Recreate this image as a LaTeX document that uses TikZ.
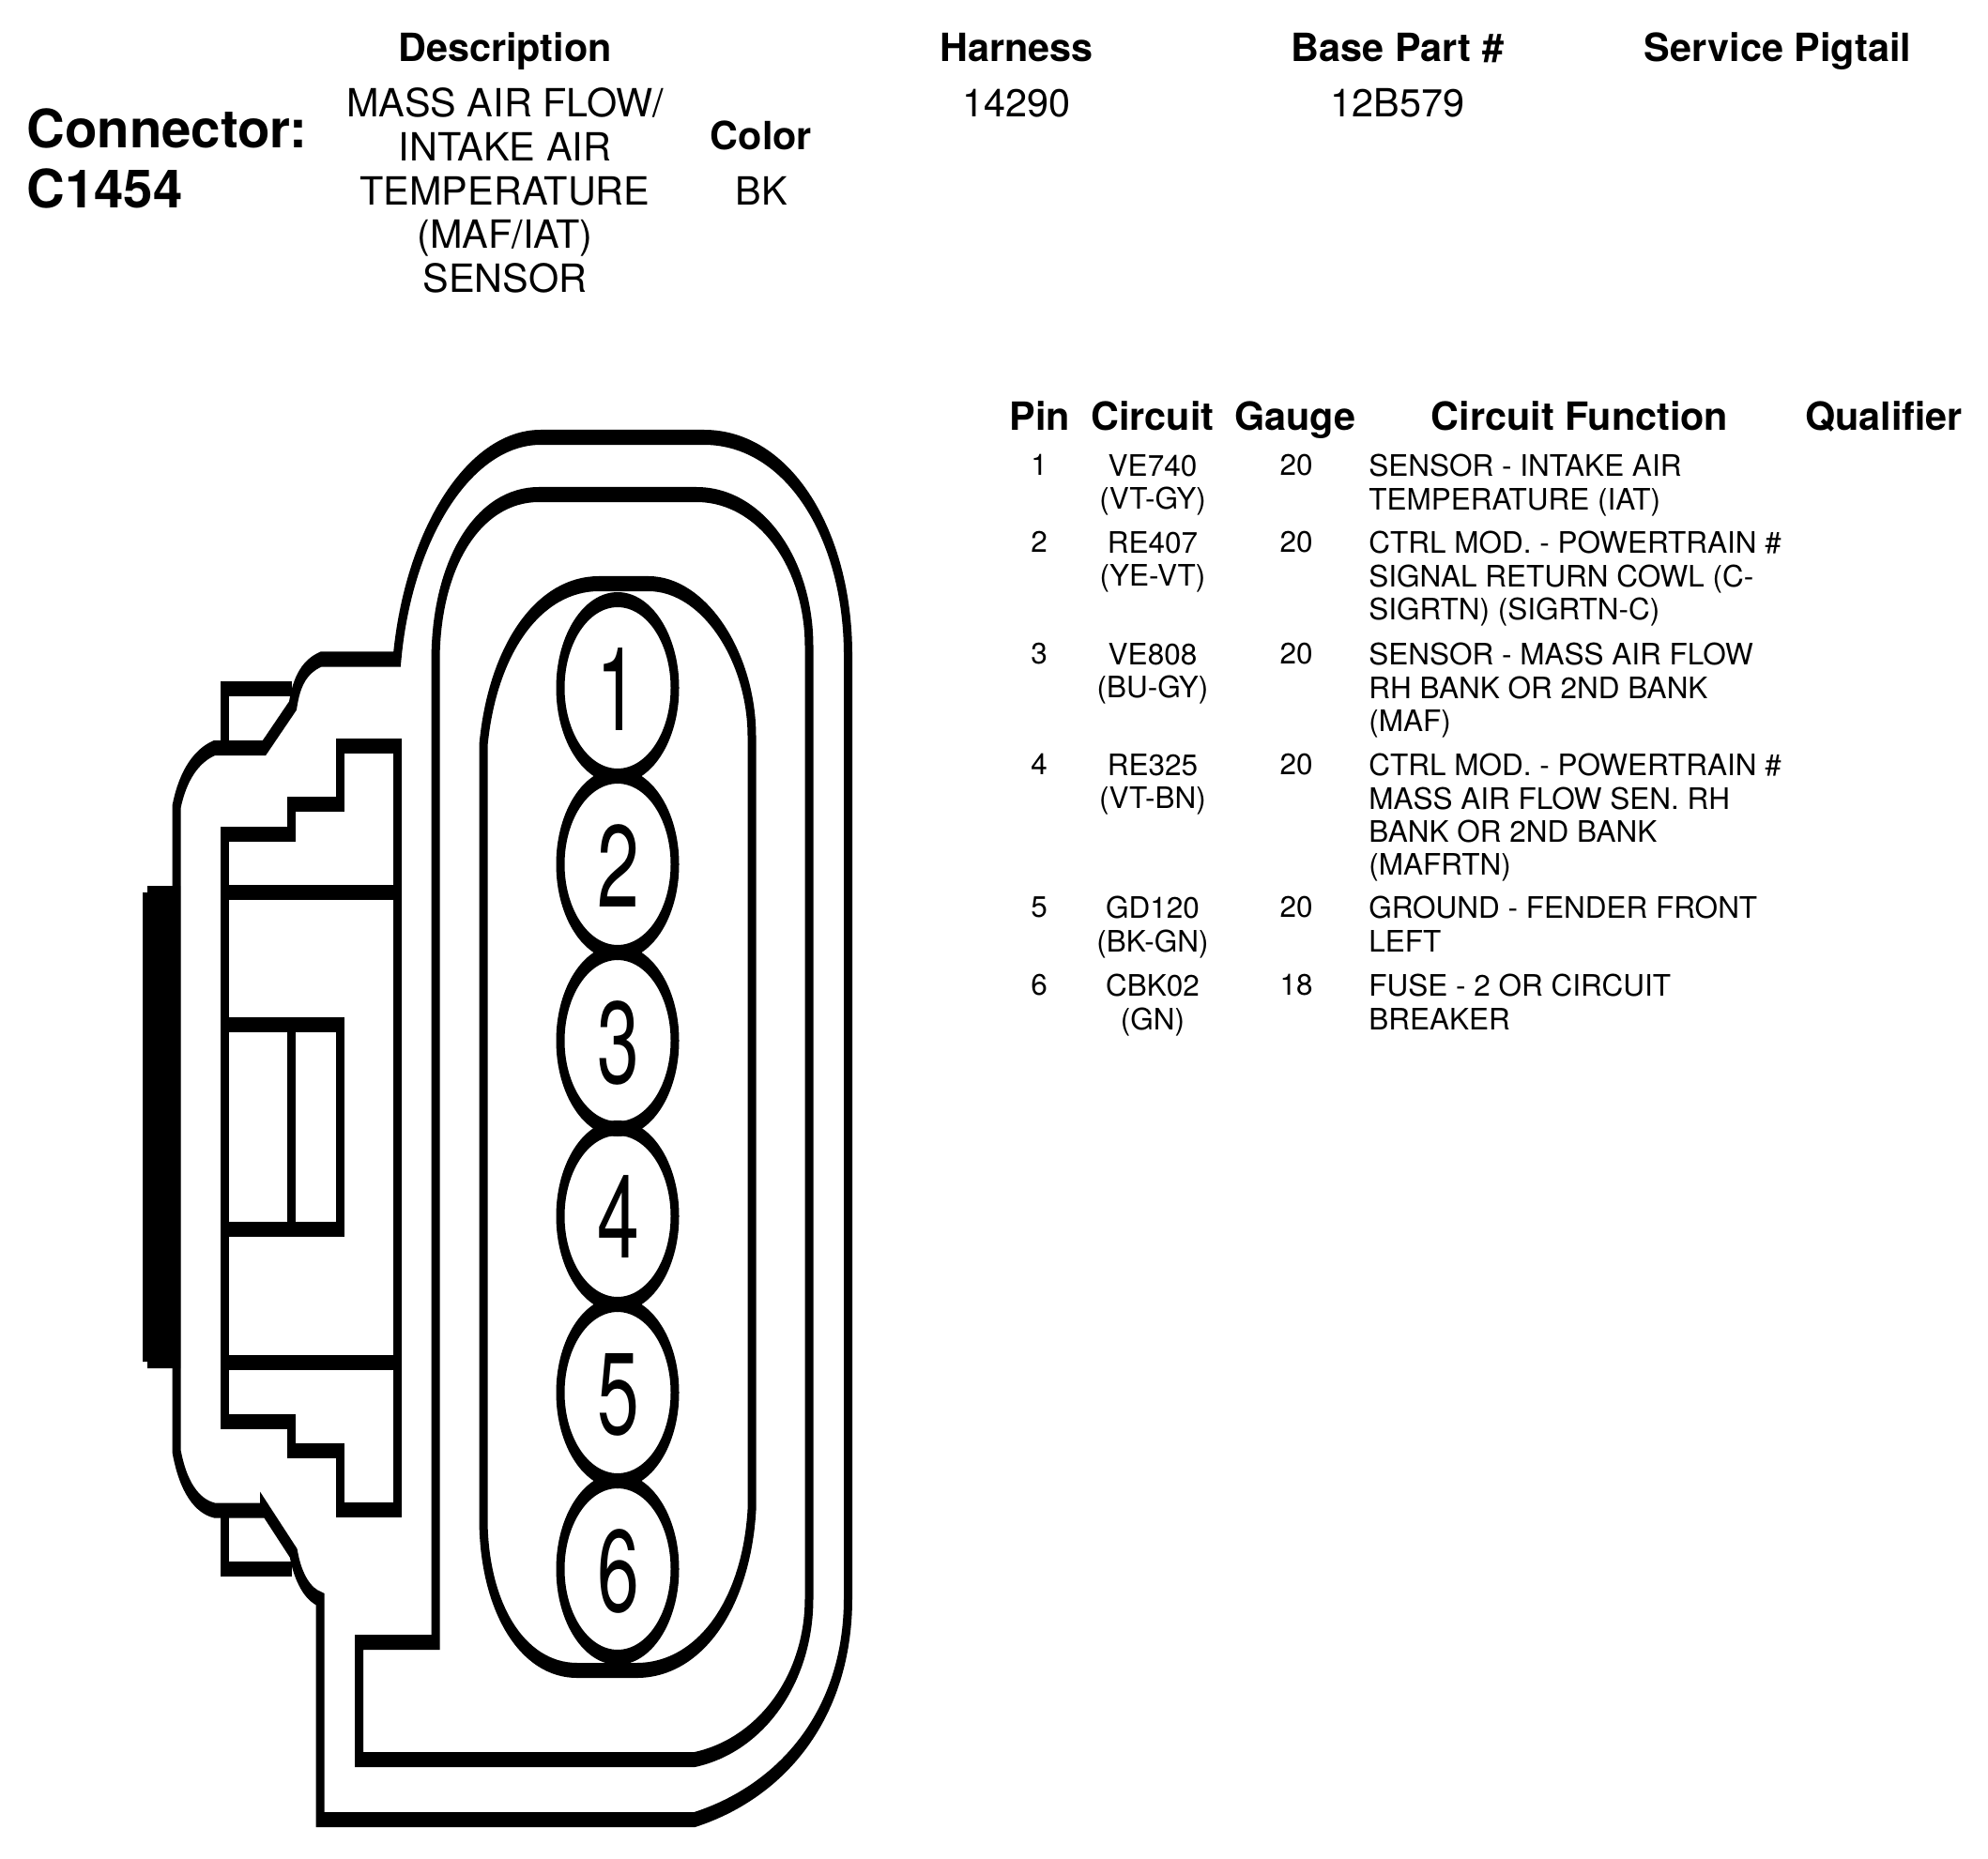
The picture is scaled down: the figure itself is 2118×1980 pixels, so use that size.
\documentclass[tikz,border=0pt]{standalone}
\usepackage{fontspec}
\setmainfont{TeX Gyre Heros}
\tikzset{
  hdr/.style={font=\fontsize{20.7}{23.3}\selectfont\bfseries,inner sep=0pt,anchor=base},
  thd/.style={font=\fontsize{20.7}{24}\selectfont\bfseries,inner sep=0pt,anchor=base},
  val/.style={font=\fontsize{20.7}{23.3}\selectfont,inner sep=0pt,anchor=center,align=center},
  big/.style={font=\fontsize{28.2}{32}\selectfont\bfseries,inner sep=0pt,anchor=west},
  cellc/.style={font=\fontsize{15.75}{17.6}\selectfont,inner sep=0pt,anchor=north,align=center},
  celll/.style={font=\fontsize{15.75}{17.6}\selectfont,inner sep=0pt,anchor=north west,align=left},
  pinnum/.style={font=\fontsize{62}{62}\selectfont,inner sep=0pt,anchor=center},
  outline/.style={draw=black,line width=4.5pt,line join=miter,fill=none},
}
\newcommand{\pinlabel}[1]{\scalebox{0.65}[1]{#1}}
\begin{document}
\begin{tikzpicture}[x=0.5pt,y=-0.5pt]
\useasboundingbox (0,0) rectangle (2118,1980);
\fill[white] (0,0) rectangle (2118,1980);
% connector drawing, with a pen wider across than along (thick horizontals)
\begin{scope}[y=-0.2809pt,transform canvas={yscale=1.78}]
  % outer body
  \draw[outline] (576,466) -- (750,466)
    .. controls (840,466) and (903.5,570) .. (903.5,698)
    -- (903.5,1703)
    .. controls (903.5,1830) and (830,1910) .. (740,1939)
    -- (341,1939) -- (341,1704)
    .. controls (330,1700) and (318,1685) .. (312.7,1655)
    -- (281.5,1607) -- (281.5,1609.5) -- (228.5,1609.5)
    .. controls (210,1605) and (195,1585) .. (188,1546)
    -- (188,860)
    .. controls (195,825) and (210,805) .. (228.5,797)
    -- (281.5,797) -- (312,752)
    .. controls (316,725) and (325,710) .. (342,702.5)
    -- (423,702.5)
    .. controls (435,570) and (500,466) .. (576,466) -- cycle;
  % second contour
  \draw[outline] (574,527) -- (742,527)
    .. controls (810,527) and (862,600) .. (862,689)
    -- (862,1703)
    .. controls (862,1790) and (810,1860) .. (740,1875)
    -- (382.5,1875) -- (382.5,1750) -- (464,1750) -- (464,705)
    .. controls (464,600) and (510,527) .. (574,527) -- cycle;
  % inner oval
  \draw[outline] (638,622) -- (691,622)
    .. controls (750,622) and (801,700) .. (801,785)
    -- (801,1609)
    .. controls (795,1710) and (745,1780) .. (678,1780)
    -- (615,1780)
    .. controls (555,1780) and (515,1710) .. (515,1618)
    -- (515,794)
    .. controls (525,690) and (575,622) .. (638,622) -- cycle;
  % pin ellipses
  \foreach \cy in {733,921,1109,1296,1484,1672}
    \draw[outline] (658,\cy) ellipse [x radius=30.5pt,y radius=26.4pt];
  % stepped block
  \draw[outline] (362,795) -- (423,795) -- (423,1609) -- (362,1609) -- (362,1546)
    -- (310.6,1546) -- (310.6,1514.5) -- (239,1514.5) -- (239,889)
    -- (310.6,889) -- (310.6,857) -- (362,857) -- cycle;
  \draw[outline] (239,951) -- (423,951);
  \draw[outline] (239,1451.7) -- (423,1451.7);
  \draw[outline] (239,1092) -- (362,1092) -- (362,1310) -- (239,1310);
  \draw[outline] (310.6,1092) -- (310.6,1310);
  % tabs
  \draw[outline] (239,797) -- (239,734) -- (311,734);
  \draw[outline] (239,1609.5) -- (239,1672) -- (311,1672);
  % black bar
  \fill[black] (157,944) -- (192,944) -- (192,1458) -- (157,1458) -- (157,1451)
    -- (152,1451) -- (152,951) -- (157,951) -- cycle;
\end{scope}
% pin numbers
\node[pinnum] (p1) at (658,735) {\pinlabel{1}};
\node[pinnum] (p2) at (659,923) {\pinlabel{2}};
\node[pinnum] (p3) at (659,1111) {\pinlabel{3}};
\node[pinnum] (p4) at (659,1297) {\pinlabel{4}};
\node[pinnum] (p5) at (659,1486) {\pinlabel{5}};
\node[pinnum] (p6) at (659,1674) {\pinlabel{6}};
% top block
\node[hdr] (hdesc) at (538,66) {Description};
\node[hdr] (hharn) at (1083,66) {Harness};
\node[hdr] (hbase) at (1489,66) {Base Part \#};
\node[hdr] (hserv) at (1894,66) {Service Pigtail};
\node[big] (conn) at (28,137) {Connector:};
\node[big] (cnum) at (28,201) {C1454};
\node[val] (desc) at (538,203) {MASS AIR FLOW/\\INTAKE AIR\\TEMPERATURE\\(MAF/IAT)\\SENSOR};
\node[hdr] (hcol) at (811,159) {Color};
\node[val] (col) at (811,203) {BK};
\node[val] (harn) at (1083,110) {14290};
\node[val] (base) at (1489,110) {12B579};
% table header
\node[thd] (tpin) at (1108,458) {Pin};
\node[thd] (tcir) at (1228,458) {Circuit};
\node[thd] (tgau) at (1380,458) {Gauge};
\node[thd] (tfun) at (1683,458) {Circuit Function};
\node[thd] (tqua) at (2007,458) {Qualifier};
% table rows
\node[cellc] (r1p) at (1107,484) {1};
\node[cellc] (r1c) at (1228,484) {VE740\\(VT-GY)};
\node[cellc] (r1g) at (1381,484) {20};
\node[celll] (r1f) at (1458,484) {SENSOR - INTAKE AIR\\TEMPERATURE (IAT)};
\node[cellc] (r2p) at (1107,566) {2};
\node[cellc] (r2c) at (1228,566) {RE407\\(YE-VT)};
\node[cellc] (r2g) at (1381,566) {20};
\node[celll] (r2f) at (1458,566) {CTRL MOD. - POWERTRAIN \#\\SIGNAL RETURN COWL (C-\\SIGRTN) (SIGRTN-C)};
\node[cellc] (r3p) at (1107,685) {3};
\node[cellc] (r3c) at (1228,685) {VE808\\(BU-GY)};
\node[cellc] (r3g) at (1381,685) {20};
\node[celll] (r3f) at (1458,685) {SENSOR - MASS AIR FLOW\\RH BANK OR 2ND BANK\\(MAF)};
\node[cellc] (r4p) at (1107,803) {4};
\node[cellc] (r4c) at (1228,803) {RE325\\(VT-BN)};
\node[cellc] (r4g) at (1381,803) {20};
\node[celll] (r4f) at (1458,803) {CTRL MOD. - POWERTRAIN \#\\MASS AIR FLOW SEN. RH\\BANK OR 2ND BANK\\(MAFRTN)};
\node[cellc] (r5p) at (1107,955) {5};
\node[cellc] (r5c) at (1228,955) {GD120\\(BK-GN)};
\node[cellc] (r5g) at (1381,955) {20};
\node[celll] (r5f) at (1458,955) {GROUND - FENDER FRONT\\LEFT};
\node[cellc] (r6p) at (1107,1038) {6};
\node[cellc] (r6c) at (1228,1038) {CBK02\\(GN)};
\node[cellc] (r6g) at (1381,1038) {18};
\node[celll] (r6f) at (1458,1038) {FUSE - 2 OR CIRCUIT\\BREAKER};
\end{tikzpicture}
\end{document}
